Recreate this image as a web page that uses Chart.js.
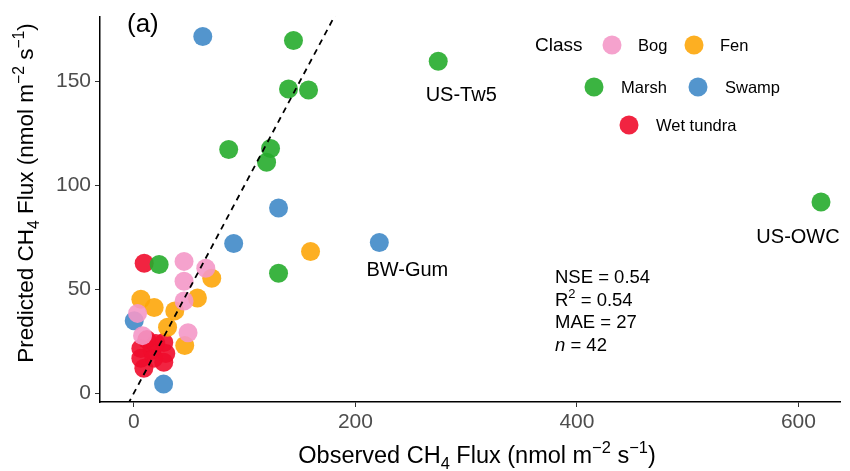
<!DOCTYPE html>
<html><head><meta charset="utf-8">
<script src="https://cdn.jsdelivr.net/npm/chart.js@4.4.1/dist/chart.umd.min.js"></script>
<style>html,body{margin:0;padding:0;background:#fff}canvas{display:block}</style>
</head><body>
<canvas id="c" width="850" height="471"></canvas>
<script>
// ---- data ----
const classes = ['Bog', 'Fen', 'Marsh', 'Swamp', 'Wet tundra'];
const bogObs = [45.3, 64.9, 45.3, 45.3, 48.9, 3.3, 7.8];
const bogPred = [63.3, 60.0, 53.8, 44.3, 29.0, 38.3, 27.6];
const fenObs = [159.5, 70.3, 57.4, 6.3, 18.3, 36.9, 30.4, 45.9];
const fenPred = [68.1, 55.2, 45.7, 45.1, 41.1, 39.5, 31.6, 22.9];
const marshObs = [144.1, 139.6, 157.7, 85.6, 123.4, 119.8, 274.8, 620.4, 130.6, 22.8];
const marshPred = [169.5, 146.2, 145.7, 117.1, 117.6, 111.0, 159.5, 91.9, 57.6, 61.8];
const swampObs = [62.2, 130.6, 90.1, 221.6, 0.3, 26.8];
const swampPred = [171.4, 89.0, 71.9, 72.4, 34.8, 4.3];
const tundraObs = [9.3, 11.7, 27.0, 6.3, 16.2, 28.8, 6.3, 18.0, 27.0, 9.0, 19.8];
const tundraPred = [62.4, 25.7, 24.3, 21.4, 20.5, 19.0, 16.7, 16.7, 14.8, 11.9, 23.8];
const oneToOne = [-10, 190];
const xTicks = [0, 200, 400, 600];
const yTicks = [0, 50, 100, 150];
const siteNames = ['US-Tw5', 'BW-Gum', 'US-OWC'];
const siteObs = [274.8, 221.6, 620.4];
const sitePred = [159.5, 72.4, 91.9];
const statLines = ['NSE = 0.54', 'R2 = 0.54', 'MAE = 27', 'n = 42'];
const panelLabel = '(a)';
const legendTitle = 'Class';

// ---- styles ----
const colors = ['rgba(244,152,200,0.9)', 'rgba(253,166,10,0.9)', 'rgba(38,172,44,0.9)', 'rgba(64,138,200,0.9)', 'rgba(240,12,44,0.9)'];
const FONT = '"Liberation Sans", Arial, sans-serif';

function pts(xs, ys) { return xs.map((x, i) => ({ x: x, y: ys[i] })); }
const series = [[bogObs, bogPred], [fenObs, fenPred], [marshObs, marshPred], [swampObs, swampPred], [tundraObs, tundraPred]];

const datasets = series.map((s, i) => ({
  type: 'scatter', label: classes[i], data: pts(s[0], s[1]),
  backgroundColor: colors[i], borderWidth: 0, pointRadius: 9.5, pointHoverRadius: 9.5
}));
datasets.push({
  type: 'line', label: '1:1', data: pts(oneToOne, oneToOne), borderColor: '#000',
  borderWidth: 1.8, borderDash: [6, 5], pointRadius: 0, fill: false, order: -1
});

function drawRich(ctx, segs, x, y, size, align) {
  const parts = segs.map(s => {
    const t = s[1] || 'n';
    const sz = (t === 'sub' || t === 'sup') ? size * 0.7 : size;
    const f = (t === 'i' ? 'italic ' : '') + sz + 'px ' + FONT;
    ctx.font = f;
    return { text: s[0], font: f, w: ctx.measureText(s[0]).width, dy: t === 'sub' ? size * 0.25 : (t === 'sup' ? -size * 0.42 : 0) };
  });
  const total = parts.reduce((a, p) => a + p.w, 0);
  let cx = align === 'center' ? x - total / 2 : x;
  ctx.textAlign = 'left'; ctx.textBaseline = 'alphabetic';
  parts.forEach(p => { ctx.font = p.font; ctx.fillText(p.text, cx, y + p.dy); cx += p.w; });
}

const annot = {
  id: 'annot',
  afterDraw(chart) {
    const ctx = chart.ctx, xs = chart.scales.x, ys = chart.scales.y;
    ctx.save();
    ctx.fillStyle = '#000';
    // axis titles
    const xTitle = [['Observed CH'], ['4', 'sub'], [' Flux (nmol m'], ['\u22122', 'sup'], [' s'], ['\u22121', 'sup'], [')']];
    const yTitle = [['Predicted CH'], ['4', 'sub'], [' Flux (nmol m'], ['\u22122', 'sup'], [' s'], ['\u22121', 'sup'], [')']];
    drawRich(ctx, xTitle, 477, 463, 23.5, 'center');
    ctx.save(); ctx.translate(33, 193); ctx.rotate(-Math.PI / 2);
    drawRich(ctx, yTitle, 0, 0, 22.5, 'center');
    ctx.restore();
    // panel label
    ctx.font = '26px ' + FONT; ctx.textAlign = 'left'; ctx.textBaseline = 'alphabetic';
    ctx.fillText(panelLabel, 127, 32);
    // site labels
    const offs = [[23, 40], [28, 34], [-23, 41]];
    ctx.font = '20px ' + FONT; ctx.textAlign = 'center';
    siteNames.forEach((n, i) => {
      ctx.fillText(n, xs.getPixelForValue(siteObs[i]) + offs[i][0], ys.getPixelForValue(sitePred[i]) + offs[i][1]);
    });
    // stats
    const sy = [283, 305.5, 328, 350.5];
    drawRich(ctx, [['NSE = 0.54']], 555, sy[0], 18.5, 'left');
    drawRich(ctx, [['R'], ['2', 'sup'], [' = 0.54']], 555, sy[1], 18.5, 'left');
    drawRich(ctx, [['MAE = 27']], 555, sy[2], 18.5, 'left');
    drawRich(ctx, [['n', 'i'], [' = 42']], 555, sy[3], 18.5, 'left');
    // legend
    ctx.font = '19px ' + FONT; ctx.textAlign = 'left'; ctx.textBaseline = 'middle';
    ctx.fillText(legendTitle, 535, 46);
    const lg = [[612, 45, 638], [694, 45, 720], [594, 87, 621], [698, 87, 725], [629, 125, 656]];
    lg.forEach((p, i) => {
      ctx.beginPath(); ctx.arc(p[0], p[1], 9.5, 0, Math.PI * 2); ctx.fillStyle = colors[i]; ctx.fill();
      ctx.fillStyle = '#000'; ctx.font = '16.5px ' + FONT; ctx.fillText(classes[i], p[2], p[1] + 1);
    });
    ctx.restore();
  }
};

new Chart(document.getElementById('c'), {
  data: { datasets: datasets },
  options: {
    responsive: false, devicePixelRatio: 1, animation: false,
    layout: { padding: { left: 0, right: 8, top: 12, bottom: 0 } },
    plugins: { legend: { display: false }, tooltip: { enabled: false } },
    scales: {
      x: {
        type: 'linear', min: -30.6, max: 638,
        afterBuildTicks: s => { s.ticks = xTicks.map(v => ({ value: v })); },
        afterFit: s => { s.height = 69; },
        border: { display: true, color: '#000', width: 1.5 },
        grid: { display: true, drawOnChartArea: false, drawTicks: true, tickLength: 5, tickColor: '#333', lineWidth: 1 },
        ticks: { color: '#4d4d4d', font: { family: FONT, size: 21 }, padding: 3, maxRotation: 0 }
      },
      y: {
        type: 'linear', min: -4.3, max: 181,
        afterBuildTicks: s => { s.ticks = yTicks.map(v => ({ value: v })); },
        afterFit: s => { s.width = 100; },
        border: { display: true, color: '#000', width: 1.5 },
        grid: { display: true, drawOnChartArea: false, drawTicks: true, tickLength: 5, tickColor: '#333', lineWidth: 1 },
        ticks: { color: '#4d4d4d', font: { family: FONT, size: 21 }, padding: 4 }
      }
    }
  },
  plugins: [annot]
});
</script>
</body></html>
